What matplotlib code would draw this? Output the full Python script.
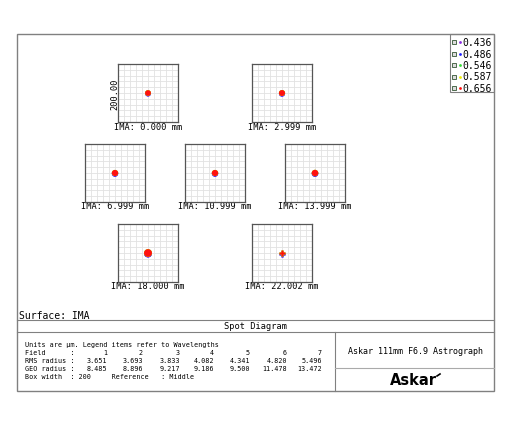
#!/usr/bin/env python3
import matplotlib
matplotlib.use("Agg")
import matplotlib.pyplot as plt
from matplotlib.patches import Circle, Rectangle

MONO = "DejaVu Sans Mono"

# data
FIELDS = [1, 2, 3, 4, 5, 6, 7]
FIELD_LABELS = ["IMA: 0.000 mm", "IMA: 2.999 mm", "IMA: 6.999 mm", "IMA: 10.999 mm",
                "IMA: 13.999 mm", "IMA: 18.000 mm", "IMA: 22.002 mm"]
RMS_RADIUS = [3.651, 3.693, 3.833, 4.082, 4.341, 4.820, 5.496]
GEO_RADIUS = [8.485, 8.896, 9.217, 9.186, 9.500, 11.478, 13.472]
WAVELENGTHS = ["0.436", "0.486", "0.546", "0.587", "0.656"]
WL_COLORS = ["#8a2be2", "#1f1fff", "#33dd33", "#eeee00", "#ff1010"]
# small vertical shift of each wavelength's spot (um)
WL_SHIFT = [-2.5, -2.0, 0.0, 0.0, 0.0]
BOX_WIDTH = 200

W, H = 512, 427
fig = plt.figure(figsize=(W / 100, H / 100), dpi=100)
fig.patch.set_facecolor("white")

# page axis in pixel coords
pg = fig.add_axes([0, 0, 1, 1])
pg.set_xlim(0, W)
pg.set_ylim(H, 0)
pg.axis("off")

frame_c = "#808080"
pg.add_patch(Rectangle((17, 35), 477, 357, fill=False, ec=frame_c, lw=1.0))
pg.plot([17, 494], [321, 321], color=frame_c, lw=0.8)
pg.plot([17, 494], [333, 333], color=frame_c, lw=0.8)
pg.plot([335, 335], [333, 392], color=frame_c, lw=0.8)
pg.plot([335, 494], [369, 369], color="#aaaaaa", lw=0.8)

# legend box
pg.add_patch(Rectangle((450, 35), 44, 58, fill=False, ec=frame_c, lw=0.8))
for i, (wl, c) in enumerate(zip(WAVELENGTHS, WL_COLORS)):
    y = 43 + i * 11.5
    pg.add_patch(Rectangle((452, y - 2), 4, 4, fill=True, fc="#dddddd", ec="#335533", lw=0.6))
    pg.plot(459.5, y, "o", ms=2, color=c, mec="none")
    pg.text(462, y, wl, fontsize=7, family=MONO, va="center", ha="left")

# spot boxes
boxes = [(118, 65), (252, 65), (85, 145), (185, 145), (285, 145), (118, 225), (252, 225)]
bw, bh = 60, 58
half = BOX_WIDTH / 2
for k, ((x0, y0), lab) in enumerate(zip(boxes, FIELD_LABELS)):
    ax = fig.add_axes([x0 / W, 1 - (y0 + bh) / H, bw / W, bh / H])
    ax.set_xlim(-half, half)
    ax.set_ylim(-half, half)
    ax.set_aspect("auto")
    ticks = [-half + j * BOX_WIDTH / 10 for j in range(11)]
    for t in ticks[1:-1]:
        ax.axvline(t, color="#e2e2e2", lw=0.6, zorder=0)
        ax.axhline(t, color="#e2e2e2", lw=0.6, zorder=0)
    ax.set_xticks([])
    ax.set_yticks([])
    for s in ax.spines.values():
        s.set_color("#555555")
        s.set_linewidth(0.9)
    r = GEO_RADIUS[k] * 1.15
    for c, dy in zip(WL_COLORS, WL_SHIFT):
        if k == 6:
            ax.plot(0, dy, "P", ms=5, color=c, mec="none", zorder=3)
        else:
            ax.add_patch(Circle((0, dy), r, color=c, lw=0, zorder=3))
    pg.text(x0 + bw / 2, y0 + bh + 4, lab, fontsize=6.2, family=MONO, ha="center", va="center")

pg.text(115, 65 + bh / 2, "200.00", fontsize=6.2, family=MONO, rotation=90, ha="center", va="center")

# bottom texts
pg.text(19, 316, "Surface: IMA", fontsize=7, family=MONO, ha="left", va="center")
pg.text(256, 327, "Spot Diagram", fontsize=6.2, family=MONO, ha="center", va="center")

fs = 4.9
pg.text(25, 345, "Units are \u00b5m. Legend items refer to Wavelengths", fontsize=fs, family=MONO, va="center")
pg.text(25, 353, "Field      :", fontsize=fs, family=MONO, va="center")
pg.text(25, 361, "RMS radius :", fontsize=fs, family=MONO, va="center")
pg.text(25, 369, "GEO radius :", fontsize=fs, family=MONO, va="center")
pg.text(25, 377, "Box width  : %d     Reference   : Middle" % BOX_WIDTH, fontsize=fs, family=MONO, va="center")
col_x = [107, 143, 180, 214, 250, 287, 322]
for x, f, rms, geo in zip(col_x, FIELDS, RMS_RADIUS, GEO_RADIUS):
    pg.text(x, 353, str(f), fontsize=fs, family=MONO, ha="right", va="center")
    pg.text(x, 361, "%.3f" % rms, fontsize=fs, family=MONO, ha="right", va="center")
    pg.text(x, 369, "%.3f" % geo, fontsize=fs, family=MONO, ha="right", va="center")

pg.text(415, 352, "Askar 111mm F6.9 Astrograph", fontsize=6.0, family=MONO, ha="center", va="center")
pg.text(413, 381, "Askar", fontsize=10.5, family="DejaVu Sans", weight="bold", ha="center", va="center")
pg.plot([437, 440], [377, 375], color="black", lw=1.2)

fig.savefig("out.png", dpi=100)
